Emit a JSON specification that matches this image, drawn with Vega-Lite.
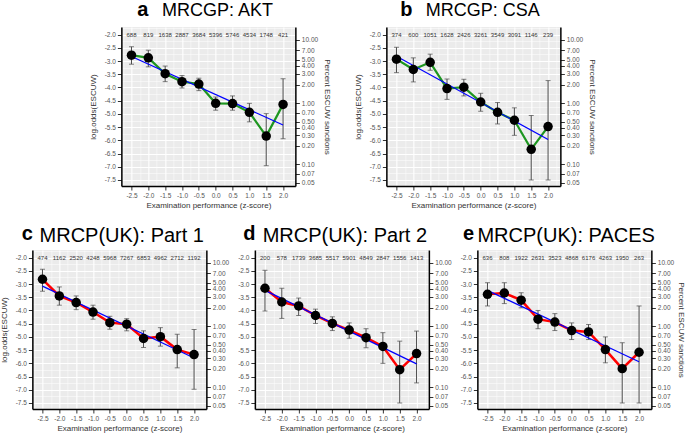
{
"$schema": "https://vega.github.io/schema/vega-lite/v6.json",
"padding": {"left": 0, "top": 0, "right": 0, "bottom": 0},
"background": "white",
"center": true,
"spacing": 14,
"datasets": {
"a": [
{"z": -2.5, "est": -2.78, "lo": -3.12, "hi": -2.46, "n": "688"},
{"z": -2.0, "est": -2.88, "lo": -3.22, "hi": -2.59, "n": "819"},
{"z": -1.5, "est": -3.48, "lo": -3.78, "hi": -3.19, "n": "1638"},
{"z": -1.0, "est": -3.78, "lo": -4.02, "hi": -3.55, "n": "2887"},
{"z": -0.5, "est": -3.87, "lo": -4.12, "hi": -3.65, "n": "3684"},
{"z": 0.0, "est": -4.60, "lo": -4.86, "hi": -4.36, "n": "5396"},
{"z": 0.5, "est": -4.61, "lo": -4.86, "hi": -4.32, "n": "5746"},
{"z": 1.0, "est": -4.94, "lo": -5.30, "hi": -4.60, "n": "4534"},
{"z": 1.5, "est": -5.84, "lo": -6.96, "hi": -4.99, "n": "1748"},
{"z": 2.0, "est": -4.64, "lo": -5.94, "hi": -3.67, "n": "421"}
],
"a_fit": [{"z": -2.5, "fit": -2.83}, {"z": 2.0, "fit": -5.42}],
"b": [
{"z": -2.5, "est": -2.93, "lo": -3.44, "hi": -2.48, "n": "374"},
{"z": -2.0, "est": -3.32, "lo": -3.79, "hi": -2.88, "n": "600"},
{"z": -1.5, "est": -3.05, "lo": -3.35, "hi": -2.74, "n": "1051"},
{"z": -1.0, "est": -4.04, "lo": -4.45, "hi": -3.68, "n": "1628"},
{"z": -0.5, "est": -3.99, "lo": -4.32, "hi": -3.69, "n": "2426"},
{"z": 0.0, "est": -4.55, "lo": -4.90, "hi": -4.22, "n": "3261"},
{"z": 0.5, "est": -4.94, "lo": -5.38, "hi": -4.57, "n": "3549"},
{"z": 1.0, "est": -5.24, "lo": -5.81, "hi": -4.77, "n": "3091"},
{"z": 1.5, "est": -6.34, "lo": -7.50, "hi": -5.06, "n": "1146"},
{"z": 2.0, "est": -5.48, "lo": -7.50, "hi": -3.74, "n": "239"}
],
"b_fit": [{"z": -2.5, "fit": -2.82}, {"z": 2.0, "fit": -5.97}],
"c": [
{"z": -2.5, "est": -2.82, "lo": -3.27, "hi": -2.44, "n": "474"},
{"z": -2.0, "est": -3.45, "lo": -3.80, "hi": -3.11, "n": "1162"},
{"z": -1.5, "est": -3.70, "lo": -3.97, "hi": -3.45, "n": "2520"},
{"z": -1.0, "est": -4.06, "lo": -4.33, "hi": -3.80, "n": "4248"},
{"z": -0.5, "est": -4.46, "lo": -4.71, "hi": -4.22, "n": "5968"},
{"z": 0.0, "est": -4.52, "lo": -4.77, "hi": -4.31, "n": "7267"},
{"z": 0.5, "est": -5.06, "lo": -5.40, "hi": -4.77, "n": "6853"},
{"z": 1.0, "est": -4.99, "lo": -5.35, "hi": -4.65, "n": "4962"},
{"z": 1.5, "est": -5.48, "lo": -6.17, "hi": -4.90, "n": "2712"},
{"z": 2.0, "est": -5.67, "lo": -6.98, "hi": -4.72, "n": "1192"}
],
"c_fit": [{"z": -2.5, "fit": -3.08}, {"z": 2.0, "fit": -5.80}],
"d": [
{"z": -2.5, "est": -3.16, "lo": -4.02, "hi": -2.48, "n": "200"},
{"z": -2.0, "est": -3.68, "lo": -4.30, "hi": -3.16, "n": "578"},
{"z": -1.5, "est": -3.83, "lo": -4.19, "hi": -3.53, "n": "1739"},
{"z": -1.0, "est": -4.19, "lo": -4.49, "hi": -3.95, "n": "3685"},
{"z": -0.5, "est": -4.49, "lo": -4.76, "hi": -4.24, "n": "5517"},
{"z": 0.0, "est": -4.74, "lo": -5.05, "hi": -4.47, "n": "5901"},
{"z": 0.5, "est": -5.03, "lo": -5.41, "hi": -4.69, "n": "4849"},
{"z": 1.0, "est": -5.36, "lo": -6.00, "hi": -4.84, "n": "2847"},
{"z": 1.5, "est": -6.24, "lo": -7.50, "hi": -5.16, "n": "1556"},
{"z": 2.0, "est": -5.63, "lo": -6.74, "hi": -4.78, "n": "1413"}
],
"d_fit": [{"z": -2.5, "fit": -3.24}, {"z": 2.0, "fit": -6.02}],
"e": [
{"z": -2.5, "est": -3.39, "lo": -3.83, "hi": -2.95, "n": "636"},
{"z": -2.0, "est": -3.34, "lo": -3.74, "hi": -2.95, "n": "808"},
{"z": -1.5, "est": -3.61, "lo": -3.90, "hi": -3.33, "n": "1922"},
{"z": -1.0, "est": -4.33, "lo": -4.69, "hi": -4.00, "n": "2631"},
{"z": -0.5, "est": -4.44, "lo": -4.76, "hi": -4.12, "n": "3523"},
{"z": 0.0, "est": -4.76, "lo": -5.10, "hi": -4.47, "n": "4868"},
{"z": 0.5, "est": -4.81, "lo": -5.10, "hi": -4.53, "n": "6176"},
{"z": 1.0, "est": -5.48, "lo": -5.98, "hi": -5.00, "n": "4263"},
{"z": 1.5, "est": -6.20, "lo": -7.50, "hi": -5.22, "n": "1950"},
{"z": 2.0, "est": -5.58, "lo": -7.50, "hi": -3.83, "n": "263"}
],
"e_fit": [{"z": -2.5, "fit": -3.24}, {"z": 2.0, "fit": -5.94}]
},
"vconcat": [
{"hconcat": [
{
"width": 174, "height": 159,
"title": {"text": "a", "dx": 16, "dy": 23},
"data": {"name": "a"},
"layer": [
{"mark": {"type": "rule", "color": "#4a4a4a", "strokeWidth": 1},
 "encoding": {
  "x": {"field": "z", "type": "quantitative", "scale": {"domain": [-2.8, 2.365], "nice": false, "zero": false},
   "axis": {"values": [-2.75,-2.5,-2.25,-2,-1.75,-1.5,-1.25,-1,-0.75,-0.5,-0.25,0,0.25,0.5,0.75,1,1.25,1.5,1.75,2,2.25], "labelExpr": "abs(datum.value*2-round(datum.value*2))>0.01 ? '' : replace(format(datum.value,'.1f'),'−','-')", "tickOpacity": {"condition": {"test": "abs(datum.value*2-round(datum.value*2))>0.01", "value": 0}, "value": 1}, "gridWidth": {"condition": {"test": "abs(datum.value*2-round(datum.value*2))>0.01", "value": 0.5}, "value": 1.1}, "grid": true, "title": "Examination performance (z-score)", "titlePadding": 3}},
  "y": {"field": "lo", "type": "quantitative", "scale": {"domain": [-7.727, -1.713], "nice": false, "zero": false},
   "axis": {"values": [-7.5,-7.25,-7,-6.75,-6.5,-6.25,-6,-5.75,-5.5,-5.25,-5,-4.75,-4.5,-4.25,-4,-3.75,-3.5,-3.25,-3,-2.75,-2.5,-2.25,-2,-1.75], "labelExpr": "abs(datum.value*2-round(datum.value*2))>0.01 ? '' : replace(format(datum.value,'.1f'),'−','-')", "tickOpacity": {"condition": {"test": "abs(datum.value*2-round(datum.value*2))>0.01", "value": 0}, "value": 1}, "gridWidth": {"condition": {"test": "abs(datum.value*2-round(datum.value*2))>0.01", "value": 0.5}, "value": 1.1}, "grid": true, "title": "log.odds(ESCUW)", "titlePadding": 7}},
  "y2": {"field": "hi"}}},
{"mark": {"type": "tick", "orient": "horizontal", "size": 5, "thickness": 1, "color": "#4a4a4a"},
 "encoding": {
  "x": {"field": "z", "type": "quantitative", "scale": {"domain": [-2.8, 2.365], "nice": false, "zero": false},
   "axis": {"orient": "top", "domain": false, "ticks": false, "labels": false, "grid": false, "title": "MRCGP: AKT", "titleFontSize": 18, "titleColor": "#000", "titleX": 95.7, "titleY": -11.7, "titleAlign": "center", "titleBaseline": "alphabetic"}},
  "y": {"field": "lo", "type": "quantitative", "scale": {"domain": [-7.727, -1.713], "nice": false, "zero": false},
   "axis": {"orient": "right", "values": [-2.19722,-2.58669,-2.94444,-3.17805,-3.4761,-3.89182,-4.59512,-4.95482,-5.2933,-5.51745,-5.80614,-6.21261,-6.90676,-7.26373,-7.6004], "labelExpr": "format(100/(1+exp(-datum.value)),'.2f')", "grid": false, "title": "Percent ESCUW sanctions", "titleAngle": 90, "titlePadding": 5}}}},
{"mark": {"type": "tick", "orient": "horizontal", "size": 5, "thickness": 1, "color": "#4a4a4a"},
 "encoding": {
  "x": {"field": "z", "type": "quantitative", "scale": {"domain": [-2.8, 2.365], "nice": false, "zero": false}, "axis": null},
  "y": {"field": "hi", "type": "quantitative", "scale": {"domain": [-7.727, -1.713], "nice": false, "zero": false}, "axis": null}}},
{"mark": {"type": "line", "color": "#1e9620", "strokeWidth": 2.2},
 "encoding": {
  "x": {"field": "z", "type": "quantitative", "scale": {"domain": [-2.8, 2.365], "nice": false, "zero": false}, "axis": null},
  "y": {"field": "est", "type": "quantitative", "scale": {"domain": [-7.727, -1.713], "nice": false, "zero": false}, "axis": null}}},
{"data": {"name": "a_fit"}, "mark": {"type": "line", "color": "#0000ff", "strokeWidth": 1.2},
 "encoding": {
  "x": {"field": "z", "type": "quantitative", "scale": {"domain": [-2.8, 2.365], "nice": false, "zero": false}, "axis": null},
  "y": {"field": "fit", "type": "quantitative", "scale": {"domain": [-7.727, -1.713], "nice": false, "zero": false}, "axis": null}}},
{"mark": {"type": "circle", "color": "#000", "size": 90, "opacity": 1},
 "encoding": {
  "x": {"field": "z", "type": "quantitative", "scale": {"domain": [-2.8, 2.365], "nice": false, "zero": false}, "axis": null},
  "y": {"field": "est", "type": "quantitative", "scale": {"domain": [-7.727, -1.713], "nice": false, "zero": false}, "axis": null}}},
{"mark": {"type": "text", "fontSize": 6, "color": "#333"},
 "encoding": {
  "x": {"field": "z", "type": "quantitative", "scale": {"domain": [-2.8, 2.365], "nice": false, "zero": false}, "axis": null},
  "y": {"datum": -2, "type": "quantitative", "scale": {"domain": [-7.727, -1.713], "nice": false, "zero": false}, "axis": null},
  "text": {"field": "n", "type": "nominal"}}}
],
"resolve": {"axis": {"x": "independent", "y": "independent"}}
},
{
"width": 174, "height": 159,
"title": {"text": "b", "dx": 14, "dy": 23},
"data": {"name": "b"},
"layer": [
{"mark": {"type": "rule", "color": "#4a4a4a", "strokeWidth": 1},
 "encoding": {
  "x": {"field": "z", "type": "quantitative", "scale": {"domain": [-2.8, 2.365], "nice": false, "zero": false},
   "axis": {"values": [-2.75,-2.5,-2.25,-2,-1.75,-1.5,-1.25,-1,-0.75,-0.5,-0.25,0,0.25,0.5,0.75,1,1.25,1.5,1.75,2,2.25], "labelExpr": "abs(datum.value*2-round(datum.value*2))>0.01 ? '' : replace(format(datum.value,'.1f'),'−','-')", "tickOpacity": {"condition": {"test": "abs(datum.value*2-round(datum.value*2))>0.01", "value": 0}, "value": 1}, "gridWidth": {"condition": {"test": "abs(datum.value*2-round(datum.value*2))>0.01", "value": 0.5}, "value": 1.1}, "grid": true, "title": "Examination performance (z-score)", "titlePadding": 3}},
  "y": {"field": "lo", "type": "quantitative", "scale": {"domain": [-7.727, -1.713], "nice": false, "zero": false},
   "axis": {"values": [-7.5,-7.25,-7,-6.75,-6.5,-6.25,-6,-5.75,-5.5,-5.25,-5,-4.75,-4.5,-4.25,-4,-3.75,-3.5,-3.25,-3,-2.75,-2.5,-2.25,-2,-1.75], "labelExpr": "abs(datum.value*2-round(datum.value*2))>0.01 ? '' : replace(format(datum.value,'.1f'),'−','-')", "tickOpacity": {"condition": {"test": "abs(datum.value*2-round(datum.value*2))>0.01", "value": 0}, "value": 1}, "gridWidth": {"condition": {"test": "abs(datum.value*2-round(datum.value*2))>0.01", "value": 0.5}, "value": 1.1}, "grid": true, "title": "log.odds(ESCUW)", "titlePadding": 7}},
  "y2": {"field": "hi"}}},
{"mark": {"type": "tick", "orient": "horizontal", "size": 5, "thickness": 1, "color": "#4a4a4a"},
 "encoding": {
  "x": {"field": "z", "type": "quantitative", "scale": {"domain": [-2.8, 2.365], "nice": false, "zero": false},
   "axis": {"orient": "top", "domain": false, "ticks": false, "labels": false, "grid": false, "title": "MRCGP: CSA", "titleFontSize": 18, "titleColor": "#000", "titleX": 96, "titleY": -11.7, "titleAlign": "center", "titleBaseline": "alphabetic"}},
  "y": {"field": "lo", "type": "quantitative", "scale": {"domain": [-7.727, -1.713], "nice": false, "zero": false},
   "axis": {"orient": "right", "values": [-2.19722,-2.58669,-2.94444,-3.17805,-3.4761,-3.89182,-4.59512,-4.95482,-5.2933,-5.51745,-5.80614,-6.21261,-6.90676,-7.26373,-7.6004], "labelExpr": "format(100/(1+exp(-datum.value)),'.2f')", "grid": false, "title": "Percent ESCUW sanctions", "titleAngle": 90, "titlePadding": 5}}}},
{"mark": {"type": "tick", "orient": "horizontal", "size": 5, "thickness": 1, "color": "#4a4a4a"},
 "encoding": {
  "x": {"field": "z", "type": "quantitative", "scale": {"domain": [-2.8, 2.365], "nice": false, "zero": false}, "axis": null},
  "y": {"field": "hi", "type": "quantitative", "scale": {"domain": [-7.727, -1.713], "nice": false, "zero": false}, "axis": null}}},
{"mark": {"type": "line", "color": "#1e9620", "strokeWidth": 2.2},
 "encoding": {
  "x": {"field": "z", "type": "quantitative", "scale": {"domain": [-2.8, 2.365], "nice": false, "zero": false}, "axis": null},
  "y": {"field": "est", "type": "quantitative", "scale": {"domain": [-7.727, -1.713], "nice": false, "zero": false}, "axis": null}}},
{"data": {"name": "b_fit"}, "mark": {"type": "line", "color": "#0000ff", "strokeWidth": 1.2},
 "encoding": {
  "x": {"field": "z", "type": "quantitative", "scale": {"domain": [-2.8, 2.365], "nice": false, "zero": false}, "axis": null},
  "y": {"field": "fit", "type": "quantitative", "scale": {"domain": [-7.727, -1.713], "nice": false, "zero": false}, "axis": null}}},
{"mark": {"type": "circle", "color": "#000", "size": 90, "opacity": 1},
 "encoding": {
  "x": {"field": "z", "type": "quantitative", "scale": {"domain": [-2.8, 2.365], "nice": false, "zero": false}, "axis": null},
  "y": {"field": "est", "type": "quantitative", "scale": {"domain": [-7.727, -1.713], "nice": false, "zero": false}, "axis": null}}},
{"mark": {"type": "text", "fontSize": 6, "color": "#333"},
 "encoding": {
  "x": {"field": "z", "type": "quantitative", "scale": {"domain": [-2.8, 2.365], "nice": false, "zero": false}, "axis": null},
  "y": {"datum": -2, "type": "quantitative", "scale": {"domain": [-7.727, -1.713], "nice": false, "zero": false}, "axis": null},
  "text": {"field": "n", "type": "nominal"}}}
],
"resolve": {"axis": {"x": "independent", "y": "independent"}}
}
], "spacing": 91, "bounds": "flush"},
{"hconcat": [
{
"width": 174, "height": 159,
"title": {"text": "c", "dx": -10.6, "dy": 23},
"data": {"name": "c"},
"layer": [
{"mark": {"type": "rule", "color": "#4a4a4a", "strokeWidth": 1},
 "encoding": {
  "x": {"field": "z", "type": "quantitative", "scale": {"domain": [-2.8, 2.365], "nice": false, "zero": false},
   "axis": {"values": [-2.75,-2.5,-2.25,-2,-1.75,-1.5,-1.25,-1,-0.75,-0.5,-0.25,0,0.25,0.5,0.75,1,1.25,1.5,1.75,2,2.25], "labelExpr": "abs(datum.value*2-round(datum.value*2))>0.01 ? '' : replace(format(datum.value,'.1f'),'−','-')", "tickOpacity": {"condition": {"test": "abs(datum.value*2-round(datum.value*2))>0.01", "value": 0}, "value": 1}, "gridWidth": {"condition": {"test": "abs(datum.value*2-round(datum.value*2))>0.01", "value": 0.5}, "value": 1.1}, "grid": true, "title": "Examination performance (z-score)", "titlePadding": 3}},
  "y": {"field": "lo", "type": "quantitative", "scale": {"domain": [-7.727, -1.713], "nice": false, "zero": false},
   "axis": {"values": [-7.5,-7.25,-7,-6.75,-6.5,-6.25,-6,-5.75,-5.5,-5.25,-5,-4.75,-4.5,-4.25,-4,-3.75,-3.5,-3.25,-3,-2.75,-2.5,-2.25,-2,-1.75], "labelExpr": "abs(datum.value*2-round(datum.value*2))>0.01 ? '' : replace(format(datum.value,'.1f'),'−','-')", "tickOpacity": {"condition": {"test": "abs(datum.value*2-round(datum.value*2))>0.01", "value": 0}, "value": 1}, "gridWidth": {"condition": {"test": "abs(datum.value*2-round(datum.value*2))>0.01", "value": 0.5}, "value": 1.1}, "grid": true, "title": "log.odds(ESCUW)", "titlePadding": 7}},
  "y2": {"field": "hi"}}},
{"mark": {"type": "tick", "orient": "horizontal", "size": 5, "thickness": 1, "color": "#4a4a4a"},
 "encoding": {
  "x": {"field": "z", "type": "quantitative", "scale": {"domain": [-2.8, 2.365], "nice": false, "zero": false},
   "axis": {"orient": "top", "domain": false, "ticks": false, "labels": false, "grid": false, "title": "MRCP(UK): Part 1", "titleFontSize": 20, "titleColor": "#000", "titleX": 88.9, "titleY": -9, "titleAlign": "center", "titleBaseline": "alphabetic"}},
  "y": {"field": "lo", "type": "quantitative", "scale": {"domain": [-7.727, -1.713], "nice": false, "zero": false},
   "axis": {"orient": "right", "values": [-2.19722,-2.58669,-2.94444,-3.17805,-3.4761,-3.89182,-4.59512,-4.95482,-5.2933,-5.51745,-5.80614,-6.21261,-6.90676,-7.26373,-7.6004], "labelExpr": "format(100/(1+exp(-datum.value)),'.2f')", "grid": false, "title": null}}}},
{"mark": {"type": "tick", "orient": "horizontal", "size": 5, "thickness": 1, "color": "#4a4a4a"},
 "encoding": {
  "x": {"field": "z", "type": "quantitative", "scale": {"domain": [-2.8, 2.365], "nice": false, "zero": false}, "axis": null},
  "y": {"field": "hi", "type": "quantitative", "scale": {"domain": [-7.727, -1.713], "nice": false, "zero": false}, "axis": null}}},
{"mark": {"type": "line", "color": "#ff0000", "strokeWidth": 2.5},
 "encoding": {
  "x": {"field": "z", "type": "quantitative", "scale": {"domain": [-2.8, 2.365], "nice": false, "zero": false}, "axis": null},
  "y": {"field": "est", "type": "quantitative", "scale": {"domain": [-7.727, -1.713], "nice": false, "zero": false}, "axis": null}}},
{"data": {"name": "c_fit"}, "mark": {"type": "line", "color": "#0000ff", "strokeWidth": 1.2},
 "encoding": {
  "x": {"field": "z", "type": "quantitative", "scale": {"domain": [-2.8, 2.365], "nice": false, "zero": false}, "axis": null},
  "y": {"field": "fit", "type": "quantitative", "scale": {"domain": [-7.727, -1.713], "nice": false, "zero": false}, "axis": null}}},
{"mark": {"type": "circle", "color": "#000", "size": 90, "opacity": 1},
 "encoding": {
  "x": {"field": "z", "type": "quantitative", "scale": {"domain": [-2.8, 2.365], "nice": false, "zero": false}, "axis": null},
  "y": {"field": "est", "type": "quantitative", "scale": {"domain": [-7.727, -1.713], "nice": false, "zero": false}, "axis": null}}},
{"mark": {"type": "text", "fontSize": 6, "color": "#333"},
 "encoding": {
  "x": {"field": "z", "type": "quantitative", "scale": {"domain": [-2.8, 2.365], "nice": false, "zero": false}, "axis": null},
  "y": {"datum": -2, "type": "quantitative", "scale": {"domain": [-7.727, -1.713], "nice": false, "zero": false}, "axis": null},
  "text": {"field": "n", "type": "nominal"}}}
],
"resolve": {"axis": {"x": "independent", "y": "independent"}}
},
{
"width": 174, "height": 159,
"title": {"text": "d", "dx": -11.7, "dy": 23},
"data": {"name": "d"},
"layer": [
{"mark": {"type": "rule", "color": "#4a4a4a", "strokeWidth": 1},
 "encoding": {
  "x": {"field": "z", "type": "quantitative", "scale": {"domain": [-2.8, 2.365], "nice": false, "zero": false},
   "axis": {"values": [-2.75,-2.5,-2.25,-2,-1.75,-1.5,-1.25,-1,-0.75,-0.5,-0.25,0,0.25,0.5,0.75,1,1.25,1.5,1.75,2,2.25], "labelExpr": "abs(datum.value*2-round(datum.value*2))>0.01 ? '' : replace(format(datum.value,'.1f'),'−','-')", "tickOpacity": {"condition": {"test": "abs(datum.value*2-round(datum.value*2))>0.01", "value": 0}, "value": 1}, "gridWidth": {"condition": {"test": "abs(datum.value*2-round(datum.value*2))>0.01", "value": 0.5}, "value": 1.1}, "grid": true, "title": "Examination performance (z-score)", "titlePadding": 3}},
  "y": {"field": "lo", "type": "quantitative", "scale": {"domain": [-7.727, -1.713], "nice": false, "zero": false},
   "axis": {"values": [-7.5,-7.25,-7,-6.75,-6.5,-6.25,-6,-5.75,-5.5,-5.25,-5,-4.75,-4.5,-4.25,-4,-3.75,-3.5,-3.25,-3,-2.75,-2.5,-2.25,-2,-1.75], "labelExpr": "abs(datum.value*2-round(datum.value*2))>0.01 ? '' : replace(format(datum.value,'.1f'),'−','-')", "tickOpacity": {"condition": {"test": "abs(datum.value*2-round(datum.value*2))>0.01", "value": 0}, "value": 1}, "gridWidth": {"condition": {"test": "abs(datum.value*2-round(datum.value*2))>0.01", "value": 0.5}, "value": 1.1}, "grid": true, "title": null}},
  "y2": {"field": "hi"}}},
{"mark": {"type": "tick", "orient": "horizontal", "size": 5, "thickness": 1, "color": "#4a4a4a"},
 "encoding": {
  "x": {"field": "z", "type": "quantitative", "scale": {"domain": [-2.8, 2.365], "nice": false, "zero": false},
   "axis": {"orient": "top", "domain": false, "ticks": false, "labels": false, "grid": false, "title": "MRCP(UK): Part 2", "titleFontSize": 20, "titleColor": "#000", "titleX": 89.5, "titleY": -9, "titleAlign": "center", "titleBaseline": "alphabetic"}},
  "y": {"field": "lo", "type": "quantitative", "scale": {"domain": [-7.727, -1.713], "nice": false, "zero": false},
   "axis": {"orient": "right", "values": [-2.19722,-2.58669,-2.94444,-3.17805,-3.4761,-3.89182,-4.59512,-4.95482,-5.2933,-5.51745,-5.80614,-6.21261,-6.90676,-7.26373,-7.6004], "labelExpr": "format(100/(1+exp(-datum.value)),'.2f')", "grid": false, "title": null}}}},
{"mark": {"type": "tick", "orient": "horizontal", "size": 5, "thickness": 1, "color": "#4a4a4a"},
 "encoding": {
  "x": {"field": "z", "type": "quantitative", "scale": {"domain": [-2.8, 2.365], "nice": false, "zero": false}, "axis": null},
  "y": {"field": "hi", "type": "quantitative", "scale": {"domain": [-7.727, -1.713], "nice": false, "zero": false}, "axis": null}}},
{"mark": {"type": "line", "color": "#ff0000", "strokeWidth": 2.5},
 "encoding": {
  "x": {"field": "z", "type": "quantitative", "scale": {"domain": [-2.8, 2.365], "nice": false, "zero": false}, "axis": null},
  "y": {"field": "est", "type": "quantitative", "scale": {"domain": [-7.727, -1.713], "nice": false, "zero": false}, "axis": null}}},
{"data": {"name": "d_fit"}, "mark": {"type": "line", "color": "#0000ff", "strokeWidth": 1.2},
 "encoding": {
  "x": {"field": "z", "type": "quantitative", "scale": {"domain": [-2.8, 2.365], "nice": false, "zero": false}, "axis": null},
  "y": {"field": "fit", "type": "quantitative", "scale": {"domain": [-7.727, -1.713], "nice": false, "zero": false}, "axis": null}}},
{"mark": {"type": "circle", "color": "#000", "size": 90, "opacity": 1},
 "encoding": {
  "x": {"field": "z", "type": "quantitative", "scale": {"domain": [-2.8, 2.365], "nice": false, "zero": false}, "axis": null},
  "y": {"field": "est", "type": "quantitative", "scale": {"domain": [-7.727, -1.713], "nice": false, "zero": false}, "axis": null}}},
{"mark": {"type": "text", "fontSize": 6, "color": "#333"},
 "encoding": {
  "x": {"field": "z", "type": "quantitative", "scale": {"domain": [-2.8, 2.365], "nice": false, "zero": false}, "axis": null},
  "y": {"datum": -2, "type": "quantitative", "scale": {"domain": [-7.727, -1.713], "nice": false, "zero": false}, "axis": null},
  "text": {"field": "n", "type": "nominal"}}}
],
"resolve": {"axis": {"x": "independent", "y": "independent"}}
},
{
"width": 174, "height": 159,
"title": {"text": "e", "dx": -14.4, "dy": 23},
"data": {"name": "e"},
"layer": [
{"mark": {"type": "rule", "color": "#4a4a4a", "strokeWidth": 1},
 "encoding": {
  "x": {"field": "z", "type": "quantitative", "scale": {"domain": [-2.8, 2.365], "nice": false, "zero": false},
   "axis": {"values": [-2.75,-2.5,-2.25,-2,-1.75,-1.5,-1.25,-1,-0.75,-0.5,-0.25,0,0.25,0.5,0.75,1,1.25,1.5,1.75,2,2.25], "labelExpr": "abs(datum.value*2-round(datum.value*2))>0.01 ? '' : replace(format(datum.value,'.1f'),'−','-')", "tickOpacity": {"condition": {"test": "abs(datum.value*2-round(datum.value*2))>0.01", "value": 0}, "value": 1}, "gridWidth": {"condition": {"test": "abs(datum.value*2-round(datum.value*2))>0.01", "value": 0.5}, "value": 1.1}, "grid": true, "title": "Examination performance (z-score)", "titlePadding": 3}},
  "y": {"field": "lo", "type": "quantitative", "scale": {"domain": [-7.727, -1.713], "nice": false, "zero": false},
   "axis": {"values": [-7.5,-7.25,-7,-6.75,-6.5,-6.25,-6,-5.75,-5.5,-5.25,-5,-4.75,-4.5,-4.25,-4,-3.75,-3.5,-3.25,-3,-2.75,-2.5,-2.25,-2,-1.75], "labelExpr": "abs(datum.value*2-round(datum.value*2))>0.01 ? '' : replace(format(datum.value,'.1f'),'−','-')", "tickOpacity": {"condition": {"test": "abs(datum.value*2-round(datum.value*2))>0.01", "value": 0}, "value": 1}, "gridWidth": {"condition": {"test": "abs(datum.value*2-round(datum.value*2))>0.01", "value": 0.5}, "value": 1.1}, "grid": true, "title": null}},
  "y2": {"field": "hi"}}},
{"mark": {"type": "tick", "orient": "horizontal", "size": 5, "thickness": 1, "color": "#4a4a4a"},
 "encoding": {
  "x": {"field": "z", "type": "quantitative", "scale": {"domain": [-2.8, 2.365], "nice": false, "zero": false},
   "axis": {"orient": "top", "domain": false, "ticks": false, "labels": false, "grid": false, "title": "MRCP(UK): PACES", "titleFontSize": 20, "titleColor": "#000", "titleX": 88.3, "titleY": -9, "titleAlign": "center", "titleBaseline": "alphabetic"}},
  "y": {"field": "lo", "type": "quantitative", "scale": {"domain": [-7.727, -1.713], "nice": false, "zero": false},
   "axis": {"orient": "right", "values": [-2.19722,-2.58669,-2.94444,-3.17805,-3.4761,-3.89182,-4.59512,-4.95482,-5.2933,-5.51745,-5.80614,-6.21261,-6.90676,-7.26373,-7.6004], "labelExpr": "format(100/(1+exp(-datum.value)),'.2f')", "grid": false, "title": "Percent ESCUW sanctions", "titleAngle": 90, "titlePadding": 3}}}},
{"mark": {"type": "tick", "orient": "horizontal", "size": 5, "thickness": 1, "color": "#4a4a4a"},
 "encoding": {
  "x": {"field": "z", "type": "quantitative", "scale": {"domain": [-2.8, 2.365], "nice": false, "zero": false}, "axis": null},
  "y": {"field": "hi", "type": "quantitative", "scale": {"domain": [-7.727, -1.713], "nice": false, "zero": false}, "axis": null}}},
{"mark": {"type": "line", "color": "#ff0000", "strokeWidth": 2.5},
 "encoding": {
  "x": {"field": "z", "type": "quantitative", "scale": {"domain": [-2.8, 2.365], "nice": false, "zero": false}, "axis": null},
  "y": {"field": "est", "type": "quantitative", "scale": {"domain": [-7.727, -1.713], "nice": false, "zero": false}, "axis": null}}},
{"data": {"name": "e_fit"}, "mark": {"type": "line", "color": "#0000ff", "strokeWidth": 1.2},
 "encoding": {
  "x": {"field": "z", "type": "quantitative", "scale": {"domain": [-2.8, 2.365], "nice": false, "zero": false}, "axis": null},
  "y": {"field": "fit", "type": "quantitative", "scale": {"domain": [-7.727, -1.713], "nice": false, "zero": false}, "axis": null}}},
{"mark": {"type": "circle", "color": "#000", "size": 90, "opacity": 1},
 "encoding": {
  "x": {"field": "z", "type": "quantitative", "scale": {"domain": [-2.8, 2.365], "nice": false, "zero": false}, "axis": null},
  "y": {"field": "est", "type": "quantitative", "scale": {"domain": [-7.727, -1.713], "nice": false, "zero": false}, "axis": null}}},
{"mark": {"type": "text", "fontSize": 6, "color": "#333"},
 "encoding": {
  "x": {"field": "z", "type": "quantitative", "scale": {"domain": [-2.8, 2.365], "nice": false, "zero": false}, "axis": null},
  "y": {"datum": -2, "type": "quantitative", "scale": {"domain": [-7.727, -1.713], "nice": false, "zero": false}, "axis": null},
  "text": {"field": "n", "type": "nominal"}}}
],
"resolve": {"axis": {"x": "independent", "y": "independent"}}
}
], "spacing": 48.5, "bounds": "flush"}
],
"config": {
 "view": {"stroke": null, "fill": "#EBEBEB"},
 "font": "Liberation Sans",
 "axis": {"domainColor": "#000", "domainWidth": 1.5, "tickColor": "#333", "tickSize": 4, "tickWidth": 1, "labelFont": "Liberation Sans", "labelFontSize": 6.5, "labelColor": "#555", "labelPadding": 2, "titleFont": "Liberation Sans", "titleFontSize": 8, "titleFontWeight": "normal", "titleColor": "#333", "gridColor": "#ffffff", "gridOpacity": 1, "labelOverlap": false, "labelFlush": false, "labelBound": false},
 "title": {"font": "Liberation Sans", "fontSize": 20, "fontWeight": "bold", "color": "#000", "anchor": "start", "frame": "group", "offset": 0, "baseline": "alphabetic"},
 "text": {"font": "Liberation Sans"}
}
}
